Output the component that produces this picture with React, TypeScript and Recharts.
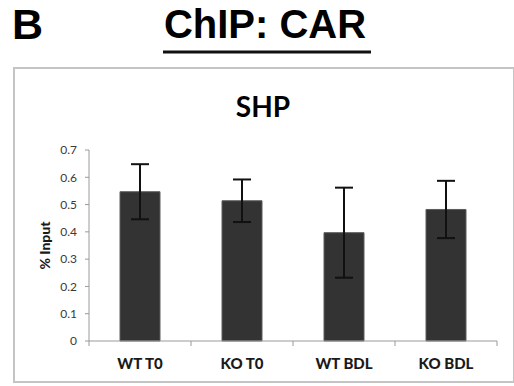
import { Bar, BarChart, ErrorBar, XAxis, YAxis } from 'recharts';

const categories = ['WT T0', 'KO T0', 'WT BDL', 'KO BDL'];
const inputValues = [0.547, 0.514, 0.397, 0.482];
const inputErrors = [0.101, 0.078, 0.165, 0.105];
const yTicks = [0, 0.1, 0.2, 0.3, 0.4, 0.5, 0.6, 0.7];

const chartData = categories.map((name, i) => ({
  name,
  value: inputValues[i],
  err: inputErrors[i],
}));

const AXIS_GRAY = '#9a9a9a';
const LABEL_FONT = 'Lato, "Open Sans", sans-serif';
const TICK_MARGIN = 17;

// category label plus the small tick marks at the category boundaries
function CategoryTick(props: any) {
  const { x, y, payload, index } = props;
  const half = payload?.offset ?? 51;
  const axisY = y - TICK_MARGIN;
  return (
    <g>
      {index === 0 && (
        <line x1={x - half} x2={x - half} y1={axisY} y2={axisY + 5} stroke={AXIS_GRAY} />
      )}
      <line x1={x + half} x2={x + half} y1={axisY} y2={axisY + 5} stroke={AXIS_GRAY} />
      <text
        x={x}
        y={y}
        dy="0.71em"
        textAnchor="middle"
        fontFamily={LABEL_FONT}
        fontWeight={900}
        fontSize={15}
        fill="#1a1a1a"
      >
        {payload.value}
      </text>
    </g>
  );
}

export default function App() {
  return (
    <div
      style={{
        position: 'absolute',
        left: 0,
        top: 0,
        width: 514,
        height: 386,
        background: '#fff',
        overflow: 'hidden',
      }}
    >
      <div
        style={{
          position: 'absolute',
          left: 13,
          top: 67,
          width: 502,
          height: 316,
          border: '2px solid #c4c4c4',
          boxSizing: 'border-box',
        }}
      />
      <div style={{ position: 'absolute', left: 0, top: 0 }}>
        <BarChart
          width={514}
          height={386}
          data={chartData}
          margin={{ top: 150, right: 17, bottom: 0, left: 0 }}
        >
          <XAxis
            dataKey="name"
            height={45}
            stroke={AXIS_GRAY}
            tickLine={false}
            tickSize={0}
            tickMargin={TICK_MARGIN}
            tick={<CategoryTick />}
            interval={0}
          />
          <YAxis
            width={89}
            domain={[0, 0.7]}
            ticks={yTicks}
            stroke={AXIS_GRAY}
            tickSize={4}
            tickMargin={8}
            tick={{ fill: '#3a3a3a', fontSize: 12, fontFamily: LABEL_FONT }}
            label={{
              value: '% Input',
              angle: -90,
              position: 'insideLeft',
              offset: 45,
              style: {
                textAnchor: 'middle',
                fontFamily: LABEL_FONT,
                fontWeight: 900,
                fontSize: 14,
                fill: '#1a1a1a',
              },
            }}
          />
          <Bar
            dataKey="value"
            fill="#333333"
            stroke="#5c5c5c"
            strokeWidth={1}
            barSize={40}
            isAnimationActive={false}
          >
            <ErrorBar
              dataKey="err"
              width={9}
              strokeWidth={2}
              stroke="#111"
              isAnimationActive={false}
            />
          </Bar>
        </BarChart>
      </div>
      <svg
        width={514}
        height={386}
        style={{ position: 'absolute', left: 0, top: 0, pointerEvents: 'none' }}
      >
        <text
          x={12}
          y={39}
          fontFamily='"Liberation Sans", Arial, sans-serif'
          fontWeight={700}
          fontSize={43}
          fill="#000"
        >
          B
        </text>
        <text
          x={265}
          y={38}
          textAnchor="middle"
          fontFamily='"Liberation Sans", Arial, sans-serif'
          fontWeight={700}
          fontSize={40}
          fill="#000"
        >
          ChIP: CAR
        </text>
        <line x1={163} x2={371} y1={52} y2={52} stroke="#111" strokeWidth={3} />
        <text
          x={263}
          y={117}
          textAnchor="middle"
          fontFamily={LABEL_FONT}
          fontWeight={700}
          fontSize={28}
          fill="#000"
        >
          SHP
        </text>
      </svg>
    </div>
  );
}
